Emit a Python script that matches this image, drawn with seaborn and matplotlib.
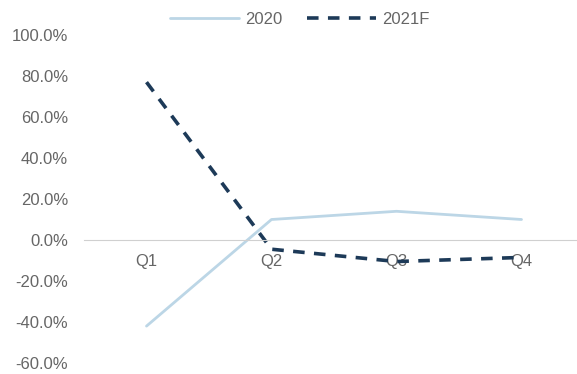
import matplotlib
matplotlib.use("Agg")
import matplotlib.pyplot as plt
import matplotlib.ticker as mticker
from matplotlib.lines import Line2D
import pandas as pd
import seaborn as sns

quarters = ["Q1", "Q2", "Q3", "Q4"]
growth_2020 = [-42.0, 10.0, 14.0, 10.0]
growth_2021f = [77.0, -4.5, -10.5, -8.5]
series_names = ["2020", "2021F"]

df = pd.DataFrame({
    "quarter": quarters * 2,
    "growth": growth_2020 + growth_2021f,
    "series": [series_names[0]] * 4 + [series_names[1]] * 4,
})

colors = {"2020": "#bcd6e6", "2021F": "#1d3a58"}
dash_2021f = (3.2, 2.6)

sns.set_theme(style="white")
plt.rcParams["font.family"] = ["Liberation Sans", "DejaVu Sans"]

fig = plt.figure(figsize=(5.77, 3.74), dpi=100)
ax = fig.add_axes([84 / 577, 11 / 374, 500 / 577, 328 / 374])

sns.lineplot(
    data=df, x="quarter", y="growth", hue="series", style="series",
    palette=colors, dashes={"2020": "", "2021F": dash_2021f},
    sort=False, ax=ax, legend=False,
)
lines = ax.get_lines()
lines[0].set_linewidth(2.0)
lines[1].set_linewidth(2.6)

ax.set_xlim(-0.5, 3.5)
ax.set_ylim(-60, 100)
ax.set_yticks(range(-60, 101, 20))
ax.yaxis.set_major_formatter(mticker.FuncFormatter(lambda v, _: f"{v:.1f}%"))
ax.set_xlabel("")
ax.set_ylabel("")

for side in ["top", "right", "left"]:
    ax.spines[side].set_visible(False)
ax.spines["bottom"].set_position(("data", 0))
ax.spines["bottom"].set_color("#d0d0d0")
ax.spines["bottom"].set_linewidth(0.8)

label_color = "#666666"
ax.tick_params(axis="x", length=0, pad=10, labelsize=12, labelcolor=label_color)
ax.tick_params(axis="y", length=0, pad=11.5, labelsize=12, labelcolor=label_color)
ax.set_facecolor("none")

handles = [
    Line2D([], [], color=colors["2020"], lw=2.0),
    Line2D([], [], color=colors["2021F"], lw=2.6, dashes=dash_2021f),
]
fig.legend(
    handles, series_names, loc="center", bbox_to_anchor=(0.52, 0.947),
    ncol=2, frameon=False, fontsize=12, labelcolor=label_color,
    handlelength=4.1, handletextpad=0.4, columnspacing=1.5,
)

fig.savefig("out.png", dpi=100)
